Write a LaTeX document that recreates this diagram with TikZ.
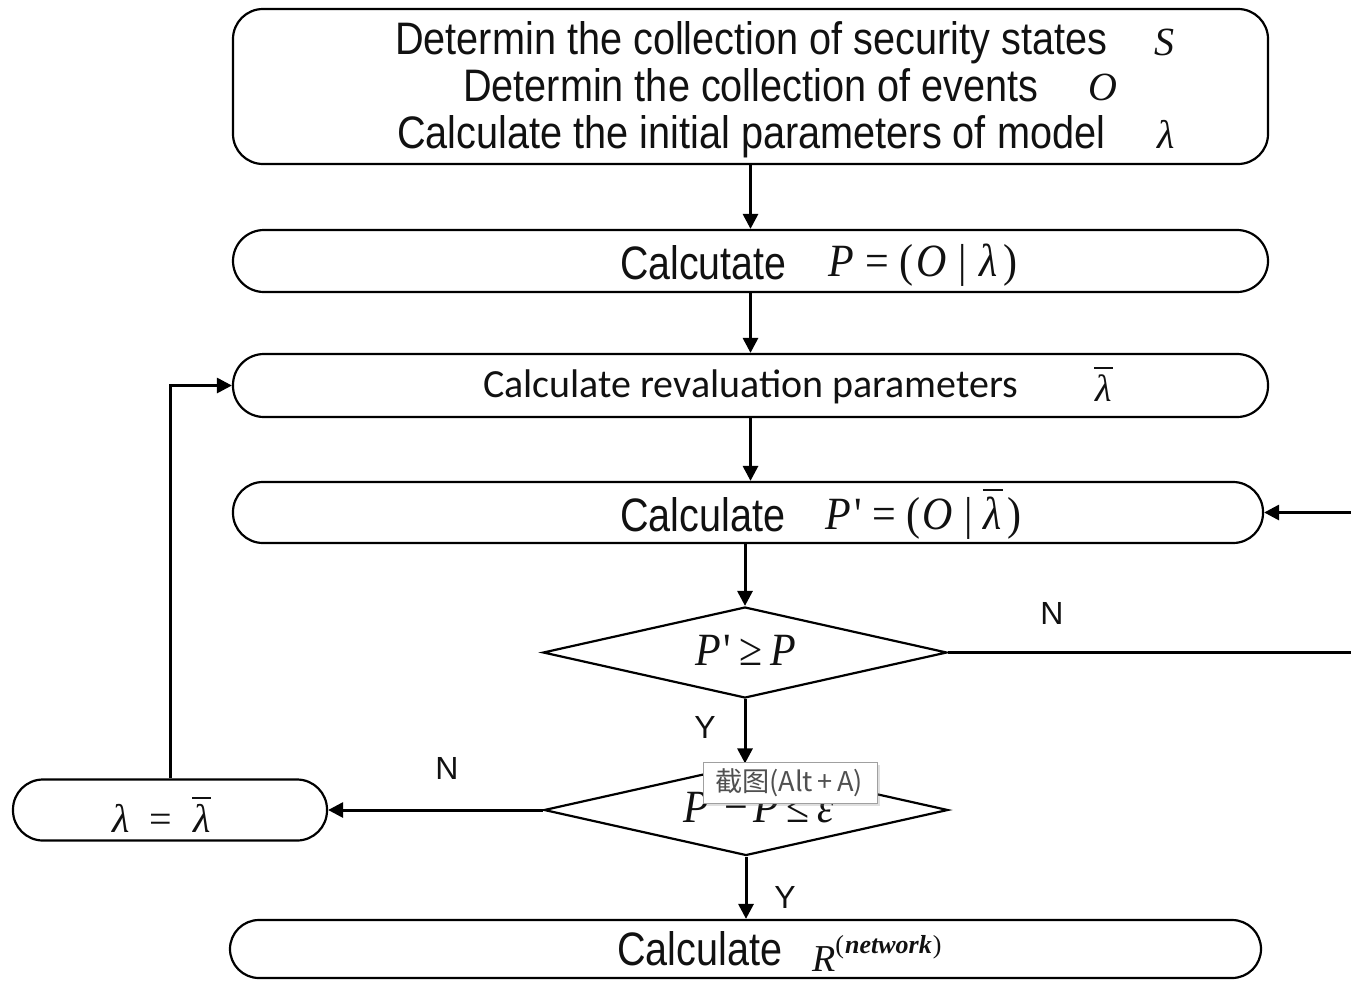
\documentclass[tikz,border=0pt]{standalone}
\usepackage{fontspec}
\setmainfont{Liberation Sans}
\newfontfamily\tmsfont{Liberation Serif}
\newfontfamily\calfont{Carlito}
\newfontfamily\cjkfont{Noto Sans CJK SC}
\usetikzlibrary{shapes.geometric,arrows.meta,shadows}

\newcommand{\mi}[1]{{\tmsfont\itshape #1}}
\newcommand{\mr}[1]{{\tmsfont #1}}
\newcommand{\lbar}{\vbox{\hrule height 2pt\kern 5pt\hbox{\kern1pt\mi{λ}\kern1pt}}}
\newcommand{\fit}[3]{\resizebox{#1pt}{#2pt}{#3}}
\newcommand{\fitw}[2]{\resizebox{#1pt}{!}{#2}}
\newcommand{\hs}[1]{\hspace{#1pt}}
\newcommand{\tall}[1]{\scalebox{1}[1.1]{#1}}

\definecolor{txt}{HTML}{111111}
\definecolor{tipborder}{HTML}{A0A0A0}
\definecolor{tiptext}{HTML}{505050}

\begin{document}
\begin{tikzpicture}[x=1pt,y=-1pt,
  every node/.style={font=\fontsize{38}{46}\selectfont, text=txt},
  box/.style={draw=black, line width=2.2pt, rounded corners=30pt, inner sep=0pt, fill=white},
  dia/.style={draw=black, line width=2.2pt, diamond, inner sep=0pt, minimum width=404pt, minimum height=91pt},
  lbl/.style={inner sep=0pt, anchor=base west},
  mth/.style={inner sep=0pt, anchor=base west, font=\fontsize{42}{46}\selectfont},
  yn/.style={inner sep=0pt, font=\fontsize{32}{34}\selectfont},
  arr/.style={line width=3pt, -{Triangle[length=15pt,width=15pt]}},
  ln/.style={line width=3pt},
  tip/.style={draw=tipborder, line width=1pt, fill=white, inner sep=0pt,
    minimum width=174pt, minimum height=41pt,
    drop shadow={shadow xshift=2.5pt, shadow yshift=-2.5pt, opacity=0.25}}
]
\useasboundingbox (0,0) rectangle (1351,980);

% boxes
\node[box, minimum width=1035pt, minimum height=155pt] (top) at (750.5,86.5) {};
\node[box, rounded corners=31pt, minimum width=1035pt, minimum height=62pt] (calcP) at (750.5,261) {};
\node[box, rounded corners=31pt, minimum width=1035pt, minimum height=63pt] (reval) at (750.5,385.5) {};
\node[box, rounded corners=30pt, minimum width=1030pt, minimum height=61pt] (calcP2) at (748,512.5) {};
\node[dia] (d1) at (745,652.5) {};
\node[dia] (d2) at (746,810) {};
\node[box, rounded corners=30pt, minimum width=314pt, minimum height=61pt] (lam) at (170,810) {};
\node[box, rounded corners=29pt, minimum width=1031pt, minimum height=58pt] (bot) at (745.5,949) {};

% top box text
\node[lbl] (t1) at (395,54) {\fit{712}{33}{Determin the collection of security states}};
\node[lbl, font=\fontsize{40}{46}\selectfont] (t1s) at (1154,55) {\mi{S}};
\node[lbl] (t2) at (463,101) {\fit{575}{33}{Determin the collection of events}};
\node[lbl, font=\fontsize{40}{46}\selectfont] (t2s) at (1088,100) {\mi{O}};
\node[lbl] (t3) at (397,148) {\fit{708}{33}{Calculate the initial parameters of model}};
\node[lbl, font=\fontsize{40}{46}\selectfont] (t3s) at (1157,148) {\mi{λ}};

% box 2
\node[lbl] (c2) at (620,279) {\fit{166}{34}{Calcutate}};
\node[mth] (f2) at (828,276) {\tall{\mi{P}\hs{12}\mr{=}\hs{10}\mr{(}\hs{3}\mi{O}\hs{12}\mr{|}\hs{12}\mi{λ}\hs{6}\mr{)}}};

% box 3
\node[lbl] (c3) at (483,397) {\fitw{535}{\calfont Calculate revaluation parameters}};
\node[lbl] (f3) at (1094,401) {\lbar};

% box 4
\node[lbl] (c4) at (620,531) {\fit{165}{34}{Calculate}};
\node[mth] (f4) at (825,529) {\tall{\mi{P}\hs{4}\mr{'}\hs{10}\mr{=}\hs{10}\mr{(}\hs{2}\mi{O}\hs{12}\mr{|}\hs{10}\lbar\hs{4}\mr{)}}};

% diamonds text
\node[mth] (f5) at (695,665) {\tall{\mi{P}\hs{3}\mr{'}\hs{8}\mr{≥}\hs{8}\mi{P}}};
\node[mth] (f6) at (683,822) {\tall{\mi{P}\hs{3}\mr{'}\hs{5}\mr{−}\hs{5}\mi{P}\hs{8}\mr{≤}\hs{8}\mi{ε}}};

% lambda box text
\node[lbl, font=\fontsize{40}{44}\selectfont] (f7) at (112,832) {\mi{λ}\hs{20}\mr{=}\hs{20}\lbar};

% bottom text
\node[lbl] (c8) at (617,965) {\fit{165}{34}{Calculate}};
\node[lbl] (f8) at (812,971) {\mi{R}\raisebox{18pt}{\fontsize{26}{26}\selectfont\mr{(}\hs{1}\mi{\bfseries network}\hs{1}\mr{)}}};

% connectors
\draw[arr] (top.south) -- (calcP.north);
\draw[arr] (calcP.south) -- (reval.north);
\draw[arr] (reval.south) -- (reval.south |- calcP2.north);
\draw[arr] (calcP2.south -| d1.north) -- (d1.north);
\draw[arr] (d1.south) -- (d1.south |- d2.north);
\draw[arr] (d2.south) -- (d2.south |- bot.north);
\draw[arr] (d2.west) -- (lam.east);
\draw[arr] (lam.north) |- (reval.west);
\coordinate (rA) at (1351,652.5);
\coordinate (rB) at (1351,512.5);
\draw[ln] (d1.east) -- (rA);
\draw[arr] (rB) -- (calcP2.east);

% Y / N labels
\node[yn] (y1) at (705,727) {Y};
\node[yn] (y2) at (785,897) {Y};
\node[yn] (n1) at (447,768) {N};
\node[yn] (n2) at (1052,613) {N};

% screenshot tooltip overlay
\node[tip] (tt) at (790,782.5) {};
\node[inner sep=0pt, text=tiptext] (ttx) at (789,783) {\fitw{148}{\cjkfont 截图(Alt\,+\,A)}};
\end{tikzpicture}
\end{document}
